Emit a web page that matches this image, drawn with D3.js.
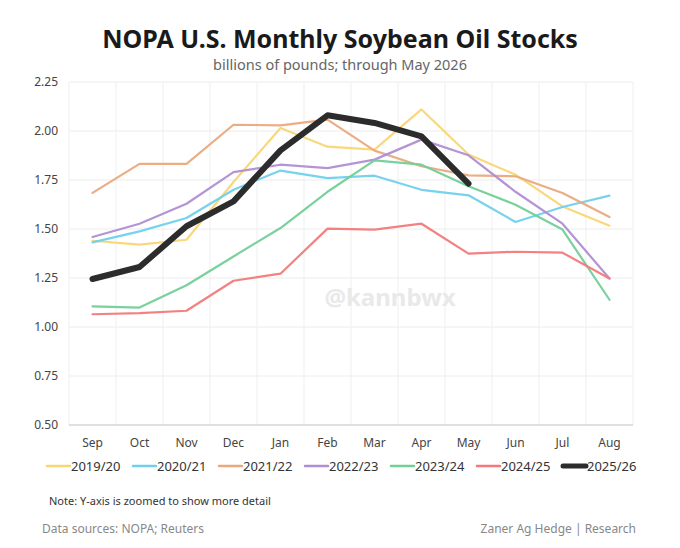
<!DOCTYPE html>
<html>
<head>
<meta charset="utf-8">
<script src="https://cdn.jsdelivr.net/npm/d3@7"></script>
<style>
  body { margin: 0; background: #fff; }
  svg { display: block; font-family: "Noto Sans", "Open Sans", sans-serif; }
</style>
</head>
<body>
<svg id="chart" width="680" height="548"></svg>
<script>
// months of the marketing year
var months = ["Sep", "Oct", "Nov", "Dec", "Jan", "Feb", "Mar", "Apr", "May", "Jun", "Jul", "Aug"];
var yTicks = [0.50, 0.75, 1.00, 1.25, 1.50, 1.75, 2.00, 2.25];

// stocks, billions of pounds
var s2019 = [1.44, 1.42, 1.445, 1.74, 2.015, 1.92, 1.905, 2.11, 1.88, 1.777, 1.615, 1.517];
var s2020 = [1.432, 1.488, 1.556, 1.70, 1.798, 1.76, 1.772, 1.70, 1.672, 1.536, 1.612, 1.67];
var s2021 = [1.684, 1.832, 1.832, 2.032, 2.029, 2.058, 1.90, 1.82, 1.774, 1.769, 1.684, 1.561];
var s2022 = [1.459, 1.527, 1.629, 1.79, 1.828, 1.811, 1.854, 1.956, 1.876, 1.69, 1.527, 1.247];
var s2023 = [1.105, 1.099, 1.213, 1.36, 1.505, 1.69, 1.85, 1.828, 1.718, 1.624, 1.497, 1.139];
var s2024 = [1.065, 1.071, 1.083, 1.236, 1.272, 1.502, 1.497, 1.527, 1.374, 1.384, 1.379, 1.247];
var s2025 = [1.245, 1.306, 1.514, 1.641, 1.901, 2.08, 2.041, 1.973, 1.731];

var seasons = ["2019/20", "2020/21", "2021/22", "2022/23", "2023/24", "2024/25", "2025/26"];
var colors = ["#f8d673", "#6fd0ec", "#eaa97c", "#b08ed3", "#72cf98", "#f27a7a", "#2c2c2c"];
var values = [s2019, s2020, s2021, s2022, s2023, s2024, s2025];

var svg = d3.select("#chart");
var margin = {left: 69, right: 47, top: 82, bottom: 123};
var W = 680, H = 548;

var x = d3.scaleBand().domain(months).range([margin.left, W - margin.right]);
var y = d3.scaleLinear().domain([0.5, 2.25]).range([H - margin.bottom, margin.top]);

// title
svg.append("text")
    .attr("x", 340).attr("y", 48)
    .attr("text-anchor", "middle")
    .attr("font-size", 25).attr("font-weight", 700)
    .attr("fill", "#1a1a1a")
    .text("NOPA U.S. Monthly Soybean Oil Stocks");

svg.append("text")
    .attr("x", 340).attr("y", 70)
    .attr("text-anchor", "middle")
    .attr("font-size", 14.5)
    .attr("fill", "#666")
    .text("billions of pounds; through May 2026");

// grid
var grid = svg.append("g");
grid.selectAll(".hg").data(yTicks.slice(1)).enter().append("line")
    .attr("x1", margin.left).attr("x2", W - margin.right)
    .attr("y1", function(d){ return y(d); }).attr("y2", function(d){ return y(d); })
    .attr("stroke", "#ececec").attr("stroke-width", 1);

var edges = months.map(function(m){ return x(m); }).concat([W - margin.right]);
grid.selectAll(".vg").data(edges).enter().append("line")
    .attr("x1", function(d){ return d; }).attr("x2", function(d){ return d; })
    .attr("y1", margin.top).attr("y2", y(0.5))
    .attr("stroke", "#efefef").attr("stroke-width", 1);

// baseline
svg.append("line")
    .attr("x1", margin.left).attr("x2", W - margin.right)
    .attr("y1", y(0.5)).attr("y2", y(0.5))
    .attr("stroke", "#d6d6d6").attr("stroke-width", 1.5);

// y labels
svg.append("g").selectAll("text").data(yTicks).enter().append("text")
    .attr("x", 58).attr("y", function(d){ return y(d) + 4; })
    .attr("text-anchor", "end")
    .attr("font-size", 12).attr("fill", "#444")
    .text(function(d){ return d3.format(".2f")(d); });

// x labels
svg.append("g").selectAll("text").data(months).enter().append("text")
    .attr("x", function(d){ return x(d) + x.bandwidth() / 2; })
    .attr("y", 447)
    .attr("text-anchor", "middle")
    .attr("font-size", 12).attr("fill", "#444")
    .text(function(d){ return d; });

// watermark
svg.append("text")
    .attr("x", 390).attr("y", 306)
    .attr("text-anchor", "middle")
    .attr("font-size", 24).attr("font-weight", 700)
    .attr("fill", "#e9e9e9")
    .text("@kannbwx");

// lines
var line = d3.line()
    .x(function(d, i){ return x(months[i]) + x.bandwidth() / 2; })
    .y(function(d){ return y(d); });

svg.append("g").selectAll("path").data(values).enter().append("path")
    .attr("d", line)
    .attr("fill", "none")
    .attr("stroke", function(d, i){ return colors[i]; })
    .attr("stroke-width", function(d, i){ return i === 6 ? 6 : 2.2; })
    .attr("stroke-linejoin", "round")
    .attr("stroke-linecap", "round")
    .attr("opacity", function(d, i){ return i === 6 ? 1 : 0.95; });

// legend
var legX = [47, 133, 219, 305, 391, 477, 563];
var leg = svg.append("g").selectAll("g").data(seasons).enter().append("g")
    .attr("transform", function(d, i){ return "translate(" + legX[i] + ",466)"; });
leg.append("line")
    .attr("x1", 0).attr("x2", 23).attr("y1", 0).attr("y2", 0)
    .attr("stroke", function(d, i){ return colors[i]; })
    .attr("stroke-width", function(d, i){ return i === 6 ? 5 : 2.5; })
    .attr("stroke-linecap", "round");
leg.append("text")
    .attr("x", 24).attr("y", 5)
    .attr("font-size", 13).attr("fill", "#333")
    .text(function(d){ return d; });

// notes
svg.append("text")
    .attr("x", 49).attr("y", 505)
    .attr("font-size", 11).attr("fill", "#333")
    .text("Note: Y-axis is zoomed to show more detail");

svg.append("text")
    .attr("x", 42).attr("y", 533)
    .attr("font-size", 12).attr("fill", "#888")
    .text("Data sources: NOPA; Reuters");

svg.append("text")
    .attr("x", 636).attr("y", 533)
    .attr("text-anchor", "end")
    .attr("font-size", 12).attr("fill", "#888")
    .text("Zaner Ag Hedge | Research");
</script>
</body>
</html>
